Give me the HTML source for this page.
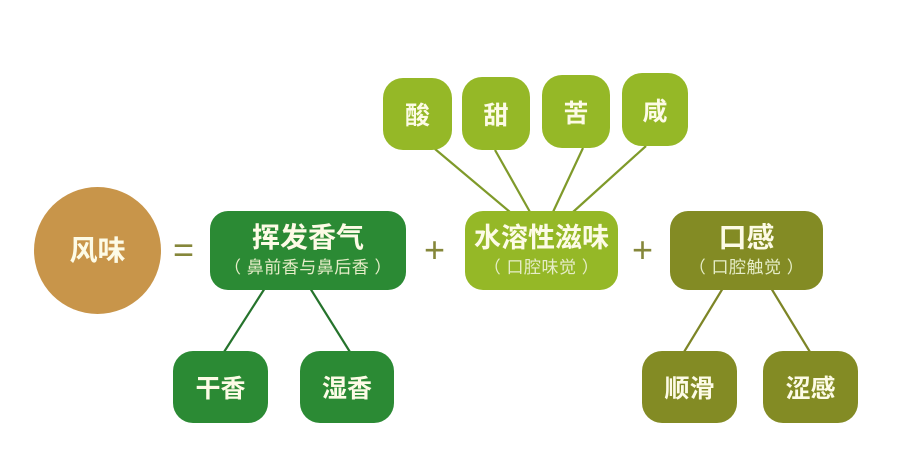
<!DOCTYPE html>
<html><head><meta charset="utf-8"><style>
html,body{margin:0;padding:0;background:#fff;}
#c{position:relative;width:900px;height:469px;overflow:hidden;font-family:"Liberation Sans","Noto Sans CJK SC",sans-serif;}
.b{position:absolute;color:#fdfbe6;display:flex;flex-direction:column;align-items:center;justify-content:center;border-radius:18px;box-sizing:border-box;}
.t{font-size:27px;font-weight:bold;line-height:30px;}
.s{font-size:17px;line-height:20px;color:#e6edc8;margin-top:5px;white-space:nowrap;letter-spacing:0.5px;}
.g{background:#2b8a34;}
.l{background:#95b827;}
.o{background:#838b24;}
.sm{font-size:25px;font-weight:bold;border-radius:20px;}
.op{position:absolute;font-size:36px;color:#85873a;line-height:36px;}
</style></head><body><div id="c">
<svg width="900" height="469" style="position:absolute;left:0;top:0">
<g stroke="#7f9a2a" stroke-width="2.2">
<line x1="435" y1="149" x2="510" y2="212"/>
<line x1="495" y1="150" x2="530" y2="212"/>
<line x1="583" y1="148" x2="553" y2="212"/>
<line x1="646" y1="146" x2="573" y2="212"/>
</g>
<g stroke="#25732c" stroke-width="2.2">
<line x1="265" y1="288" x2="224" y2="352"/>
<line x1="310" y1="288" x2="350" y2="352"/>
</g>
<g stroke="#7d8526" stroke-width="2.2">
<line x1="723" y1="288" x2="684" y2="352"/>
<line x1="771" y1="288" x2="810" y2="352"/>
</g>
</svg>
<div class="b" style="left:34px;top:187px;width:127px;height:127px;border-radius:50%;background:#c8954a;"><span class="t" style="font-size:28px">风味</span></div>
<div class="op" style="left:173px;top:232px;">=</div>
<div class="b g" style="left:210px;top:211px;width:196px;height:79px;"><span class="t" style="font-size:28px">挥发香气</span><span class="s">（ 鼻前香与鼻后香 ）</span></div>
<div class="op" style="left:424px;top:232px;">+</div>
<div class="b l" style="left:465px;top:211px;width:153px;height:79px;"><span class="t">水溶性滋味</span><span class="s">（ 口腔味觉 ）</span></div>
<div class="op" style="left:632px;top:232px;">+</div>
<div class="b o" style="left:670px;top:211px;width:153px;height:79px;"><span class="t" style="font-size:28px">口感</span><span class="s">（ 口腔触觉 ）</span></div>
<div class="b l sm" style="left:383px;top:78px;width:69px;height:72px;">酸</div>
<div class="b l sm" style="left:462px;top:77px;width:68px;height:73px;">甜</div>
<div class="b l sm" style="left:542px;top:75px;width:68px;height:73px;">苦</div>
<div class="b l sm" style="left:622px;top:73px;width:66px;height:73px;">咸</div>
<div class="b g sm" style="left:173px;top:351px;width:95px;height:72px;">干香</div>
<div class="b g sm" style="left:300px;top:351px;width:94px;height:72px;">湿香</div>
<div class="b o sm" style="left:642px;top:351px;width:95px;height:72px;">顺滑</div>
<div class="b o sm" style="left:763px;top:351px;width:95px;height:72px;">涩感</div>
</div></body></html>
